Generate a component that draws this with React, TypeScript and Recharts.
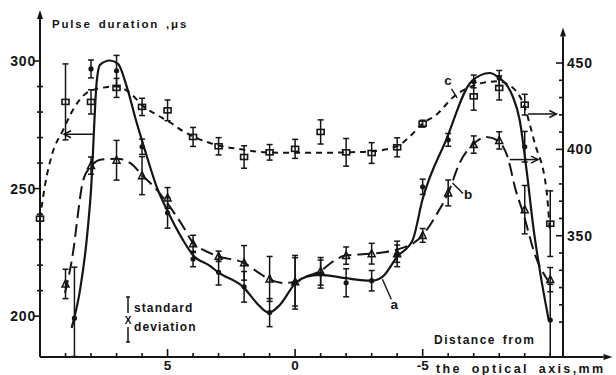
import {
  ComposedChart,
  Line,
  Scatter,
  ErrorBar,
  XAxis,
  YAxis,
  ReferenceLine,
  ReferenceDot,
  Customized,
} from "recharts";

const INK = "#151515";
const FONT = "'Liberation Sans', Arial, Helvetica, sans-serif";

// axis ranges: distance in mm (left side positive), durations in µs
const xDomain: [number, number] = [-10.5, 10];
const leftDomain: [number, number] = [184, 320];
const rightDomain: [number, number] = [279.8, 480.7];

const xTicks = [9, 8, 7, 6, 5, 4, 3, 2, 1, 0, -1, -2, -3, -4, -5, -6, -7, -8, -9, -10];
const xLabels = [5, 0, -5];
const leftTicks = [200, 210, 220, 230, 240, 250, 260, 270, 280, 290, 300];
const leftLabels = [200, 250, 300];
const rightTicks = [300, 310, 320, 330, 340, 350, 360, 370, 380, 390, 400, 410, 420, 430, 440, 450];
const rightLabels = [350, 400, 450];

// curve a (left scale): measured points with standard deviation
const pointsA = [
  { x: 8.65, y: 199.2, err: [15, 20] },
  { x: 8, y: 296.9, err: 3.5 },
  { x: 7, y: 296.2, err: 6 },
  { x: 6, y: 266.4, err: 3 },
  { x: 5, y: 240.5, err: 6 },
  { x: 4, y: 222.4, err: 3 },
  { x: 3, y: 217.2, err: 5 },
  { x: 2, y: 211.5, err: 6 },
  { x: 1, y: 201.4, err: 5.5 },
  { x: 0, y: 213.3, err: 10.5 },
  { x: -1, y: 216.5, err: 5.5 },
  { x: -2, y: 213.1, err: 5.5 },
  { x: -3, y: 213.9, err: 4 },
  { x: -4, y: 224.4, err: 5 },
  { x: -5, y: 250.7, err: 3 },
  { x: -6, y: 269.1, err: 2.5 },
  { x: -7, y: 292, err: 2.5 },
  { x: -8, y: 293.3, err: 3 },
  { x: -9, y: 266.4, err: 6 },
  { x: -10, y: 198.5, err: [14.5, 14] },
];

// curve b (right scale)
const pointsB = [
  { x: 9, y: 322.1, err: 8.5 },
  { x: 8, y: 390.6, err: 5 },
  { x: 7, y: 393.7, err: 11.5 },
  { x: 6, y: 384.8, err: 11 },
  { x: 5, y: 371.9, err: 6 },
  { x: 4, y: 345.3, err: 5 },
  { x: 3, y: 338.1, err: 3 },
  { x: 2, y: 334.3, err: 10 },
  { x: 1, y: 325, err: 13 },
  { x: 0, y: 323.3, err: 14 },
  { x: -1, y: 329.4, err: 8 },
  { x: -2, y: 338.5, err: 5 },
  { x: -3, y: 339.6, err: 6 },
  { x: -4, y: 339.6, err: 5 },
  { x: -5, y: 350.2, err: 4 },
  { x: -6, y: 374.8, err: 7.5 },
  { x: -7, y: 402.8, err: 5 },
  { x: -8, y: 405.2, err: 5 },
  { x: -9, y: 365.1, err: 14 },
  { x: -10, y: 324.6, err: 7 },
];

// curve c (right scale)
const pointsC = [
  { x: 10, y: 359.9, err: null },
  { x: 9, y: 427.5, err: 22 },
  { x: 8, y: 427.5, err: 7 },
  { x: 7, y: 435.6, err: 5.5 },
  { x: 6, y: 424.6, err: 5 },
  { x: 5, y: 422.6, err: 6 },
  { x: 4, y: 407.2, err: 5.5 },
  { x: 3, y: 401.8, err: 5 },
  { x: 2, y: 395.6, err: 6.5 },
  { x: 1, y: 398.3, err: 4.5 },
  { x: 0, y: 400.3, err: 5.5 },
  { x: -1, y: 410.1, err: 7 },
  { x: -2, y: 398.3, err: 8 },
  { x: -3, y: 397.9, err: 6 },
  { x: -4, y: 401.2, err: 5.5 },
  { x: -5, y: 414.9, err: 2 },
  { x: -7, y: 430.7, err: 8 },
  { x: -8, y: 435.6, err: 7 },
  { x: -9, y: 425.9, err: 6 },
  { x: -10, y: 357, err: 19 },
];

// hand-fitted smooth curves through the measurements
const fitA = [
  [8.76, 195.4], [8.43, 210.3], [8.17, 229.9], [8.0, 249.5], [7.78, 291.5],
  [7.65, 298.5], [7.26, 300.2], [6.94, 298.9], [6.6, 290], [6.21, 275.8],
  [5.89, 265.2], [5.43, 250.8], [4.99, 241], [4.4, 229.9], [4.01, 224],
  [3.34, 219.7], [3.03, 217.3], [2.01, 211.2], [1.51, 205.2], [1.03, 201.4],
  [0.6, 204.4], [-0.02, 213], [-0.45, 215.5], [-0.97, 216.2], [-1.97, 214.9],
  [-2.99, 213.9], [-3.43, 215.5], [-4.0, 223.3], [-4.61, 229.9], [-4.99, 245.6],
  [-5.92, 269.1], [-6.91, 292], [-7.63, 295.3], [-7.93, 293.9], [-8.53, 286.1],
  [-8.8, 277], [-9.07, 257.4], [-9.35, 233.9], [-9.62, 216.2], [-9.94, 198.5],
].map(([x, y]) => ({ x, y }));

const fitB = [
  [9.02, 316.9], [8.76, 335.2], [8.3, 382.5], [8.0, 390.2], [7.58, 394.1],
  [6.97, 394.6], [6.47, 392.2], [5.95, 384.4], [5.43, 376.7], [4.97, 368],
  [4.39, 355.4], [3.97, 345.3], [3.54, 341.4], [3.02, 338.1], [2.01, 334.3],
  [1.51, 329.4], [1.03, 325], [0.47, 322.7], [-0.02, 323.3], [-0.45, 326.5],
  [-0.97, 329.4], [-1.49, 335.2], [-1.97, 338.5], [-2.99, 339.6], [-4.0, 342],
  [-4.99, 350.2], [-5.54, 362.2], [-6.0, 374.8], [-6.45, 392.2], [-6.97, 402.8],
  [-7.5, 407.2], [-7.93, 405.2], [-8.34, 395.1], [-8.64, 376.7], [-8.92, 364],
  [-9.43, 337.9], [-9.94, 323.4],
].map(([x, y]) => ({ x, y }));

const fitC = [
  [10, 359.9], [9.8, 379.6], [9.53, 397], [9.09, 411.4], [8.63, 424.9],
  [8.17, 432.7], [7.58, 435.6], [7.02, 436.5], [6.47, 432.7], [5.95, 424.9],
  [5.43, 420.1], [4.91, 415.7], [4.39, 410.5], [3.86, 406.6], [3.34, 403.7],
  [2.06, 399.9], [1.06, 398.3], [0.01, 398], [-1.01, 398], [-1.97, 398.3],
  [-2.99, 398.9], [-4.0, 401.8], [-4.49, 407.4], [-4.99, 414.9], [-5.54, 420.1],
  [-6.18, 430], [-7.36, 438.5], [-7.93, 439.4], [-8.54, 435.6], [-8.96, 425.9],
  [-9.39, 403.7], [-9.85, 376.7], [-9.98, 353.5],
].map(([x, y]) => ({ x, y }));

const textStyle = { fontFamily: FONT, fontWeight: 700, fill: INK } as const;

const XTick = ({ x, y, payload }: any) => {
  const major = xLabels.includes(payload.value);
  return (
    <g>
      <line x1={x} x2={x} y1={y} y2={y - (major ? 8 : 4)} stroke={INK} strokeWidth={1.6} />
      {major && (
        <text x={x} y={y + 13} textAnchor="middle" fontSize={13.5} {...textStyle}>
          {payload.value}
        </text>
      )}
    </g>
  );
};

const LeftTick = ({ x, y, payload }: any) => {
  const major = leftLabels.includes(payload.value);
  return (
    <g>
      <line x1={major ? x - 7 : x - 3} x2={major ? x : x + 3} y1={y} y2={y} stroke={INK} strokeWidth={1.6} />
      {major && (
        <text x={x - 4} y={y + 5} textAnchor="end" fontSize={14} letterSpacing={0.8} {...textStyle}>
          {payload.value}
        </text>
      )}
    </g>
  );
};

const RightTick = ({ x, y, payload }: any) => {
  const major = rightLabels.includes(payload.value);
  return (
    <g>
      <line x1={major ? x - 7 : x - 4} x2={x + 1} y1={y} y2={y} stroke={INK} strokeWidth={1.6} />
      {major && (
        <text x={x + 4} y={y + 5} fontSize={14} letterSpacing={0.8} {...textStyle}>
          {payload.value}
        </text>
      )}
    </g>
  );
};

// line with a filled (axes) or open (pointers) arrow head at its end
const arrow = (filled: boolean, width: number) => (p: any) => {
  const { x1, y1, x2, y2 } = p;
  const ang = Math.atan2(y2 - y1, x2 - x1);
  const len = filled ? 9 : 7;
  const half = filled ? 3 : 3.5;
  const bx = x2 - len * Math.cos(ang);
  const by = y2 - len * Math.sin(ang);
  const nx = -Math.sin(ang) * half;
  const ny = Math.cos(ang) * half;
  return (
    <g>
      <line x1={x1} y1={y1} x2={filled ? bx : x2} y2={filled ? by : y2} stroke={INK} strokeWidth={width} />
      {filled ? (
        <polygon points={`${x2},${y2} ${bx + nx},${by + ny} ${bx - nx},${by - ny}`} fill={INK} />
      ) : (
        <polyline
          points={`${bx + nx},${by + ny} ${x2},${y2} ${bx - nx},${by - ny}`}
          fill="none"
          stroke={INK}
          strokeWidth={1.5}
        />
      )}
    </g>
  );
};

const letter = (ch: string) => (p: any) => (
  <text x={p.cx} y={p.cy + 4} textAnchor="middle" fontSize={13.5} {...textStyle}>
    {ch}
  </text>
);

const dotA = (p: any) => <circle cx={p.cx} cy={p.cy} r={2.6} fill={INK} />;
const triangleB = (p: any) => (
  <path
    d={`M${p.cx},${p.cy - 4} L${p.cx + 3.5},${p.cy + 3} L${p.cx - 3.5},${p.cy + 3} Z`}
    fill="none"
    stroke={INK}
    strokeWidth={1.5}
  />
);
const boxC = (p: any) => (
  <rect x={p.cx - 3.5} y={p.cy - 2.5} width={7} height={5} fill="none" stroke={INK} strokeWidth={1.6} />
);

// titles and the standard-deviation key
const Notes = () => (
  <g>
    <text x={52} y={28} fontSize={11.5} letterSpacing={1.8} wordSpacing={2} {...textStyle}>
      Pulse duration ,μs
    </text>
    <text x={434} y={344} fontSize={12} letterSpacing={1.5} wordSpacing={2} {...textStyle}>
      Distance from
    </text>
    <text x={436} y={373} fontSize={12.5} letterSpacing={2.4} wordSpacing={4} {...textStyle}>
      the optical axis,mm
    </text>
    <g stroke={INK} strokeWidth={1.5}>
      <line x1={128} y1={297} x2={128} y2={313} />
      <line x1={126} y1={297} x2={130} y2={297} />
      <line x1={128} y1={327} x2={128} y2={342} />
      <line x1={126} y1={342} x2={130} y2={342} />
    </g>
    <text x={128} y={324} textAnchor="middle" fontSize={10} {...textStyle}>
      X
    </text>
    <text x={134} y={311.5} fontSize={12} letterSpacing={1.1} {...textStyle}>
      standard
    </text>
    <text x={134} y={331} fontSize={12} letterSpacing={1.1} {...textStyle}>
      deviation
    </text>
  </g>
);

export default function App() {
  return (
    <div style={{ position: "absolute", left: 0, top: 0, background: "#fff" }}>
      <ComposedChart width={616} height={375} margin={{ top: 10, right: 0, bottom: 0, left: 0 }}>
        <XAxis
          type="number"
          dataKey="x"
          domain={xDomain}
          reversed
          ticks={xTicks}
          tick={<XTick />}
          tickLine={false}
          axisLine={false}
          tickSize={0}
          tickMargin={0}
          height={18}
          interval={0}
        />
        <YAxis
          yAxisId="left"
          type="number"
          domain={leftDomain}
          ticks={leftTicks}
          tick={<LeftTick />}
          tickLine={false}
          axisLine={false}
          tickSize={0}
          tickMargin={0}
          width={40}
          interval={0}
        />
        <YAxis
          yAxisId="right"
          orientation="right"
          type="number"
          domain={rightDomain}
          ticks={rightTicks}
          tick={<RightTick />}
          tickLine={false}
          axisLine={false}
          tickSize={0}
          tickMargin={0}
          width={53}
          interval={0}
        />

        {/* axes drawn as arrows */}
        <ReferenceLine
          yAxisId="left"
          segment={[{ x: 10, y: 184 }, { x: 10, y: 320 }]}
          ifOverflow="visible"
          shape={arrow(true, 2)}
        />
        <ReferenceLine
          yAxisId="left"
          segment={[{ x: 10, y: 184 }, { x: -12.44, y: 184 }]}
          ifOverflow="visible"
          shape={arrow(true, 2)}
        />
        <ReferenceLine
          yAxisId="right"
          segment={[{ x: -10.5, y: 279.8 }, { x: -10.5, y: 470.5 }]}
          ifOverflow="visible"
          shape={arrow(true, 2)}
        />

        <Line
          yAxisId="left"
          data={fitA}
          dataKey="y"
          type="monotone"
          stroke={INK}
          strokeWidth={2.2}
          dot={false}
          isAnimationActive={false}
        />
        <Line
          yAxisId="right"
          data={fitB}
          dataKey="y"
          type="monotone"
          stroke={INK}
          strokeWidth={2}
          strokeDasharray="13 6"
          dot={false}
          isAnimationActive={false}
        />
        <Line
          yAxisId="right"
          data={fitC}
          dataKey="y"
          type="monotone"
          stroke={INK}
          strokeWidth={2}
          strokeDasharray="6 5"
          dot={false}
          isAnimationActive={false}
        />

        <Scatter yAxisId="left" data={pointsA} dataKey="y" shape={dotA} isAnimationActive={false}>
          <ErrorBar dataKey="err" direction="y" width={3} stroke={INK} strokeWidth={1.5} isAnimationActive={false} />
        </Scatter>
        <Scatter yAxisId="right" data={pointsB} dataKey="y" shape={triangleB} isAnimationActive={false}>
          <ErrorBar dataKey="err" direction="y" width={3} stroke={INK} strokeWidth={1.5} isAnimationActive={false} />
        </Scatter>
        <Scatter yAxisId="right" data={pointsC} dataKey="y" shape={boxC} isAnimationActive={false}>
          <ErrorBar dataKey="err" direction="y" width={3} stroke={INK} strokeWidth={1.5} isAnimationActive={false} />
        </Scatter>

        {/* pointers to the scale each curve belongs to */}
        <ReferenceLine
          yAxisId="left"
          segment={[{ x: 7.91, y: 271.3 }, { x: 9.06, y: 271.3 }]}
          shape={arrow(false, 1.5)}
        />
        <ReferenceLine
          yAxisId="right"
          segment={[{ x: -9.13, y: 420.5 }, { x: -10.24, y: 420.5 }]}
          shape={arrow(false, 1.5)}
        />
        <ReferenceLine
          yAxisId="right"
          segment={[{ x: -8.41, y: 394.1 }, { x: -9.52, y: 394.1 }]}
          shape={arrow(false, 1.5)}
        />

        {/* curve labels with leaders */}
        <ReferenceLine
          yAxisId="left"
          segment={[{ x: -3.42, y: 214.5 }, { x: -3.77, y: 206.6 }]}
          stroke={INK}
          strokeWidth={1.4}
        />
        <ReferenceDot yAxisId="left" x={-3.89} y={204.4} shape={letter("a")} />
        <ReferenceLine
          yAxisId="right"
          segment={[{ x: -6.17, y: 380.6 }, { x: -6.58, y: 374.4 }]}
          stroke={INK}
          strokeWidth={1.4}
        />
        <ReferenceDot yAxisId="right" x={-6.78} y={373.5} shape={letter("b")} />
        <ReferenceLine
          yAxisId="right"
          segment={[{ x: -6.13, y: 435 }, { x: -6.35, y: 429.8 }]}
          stroke={INK}
          strokeWidth={1.4}
        />
        <ReferenceDot yAxisId="right" x={-5.99} y={439.4} shape={letter("c")} />

        <Customized component={<Notes />} />
      </ComposedChart>
    </div>
  );
}
